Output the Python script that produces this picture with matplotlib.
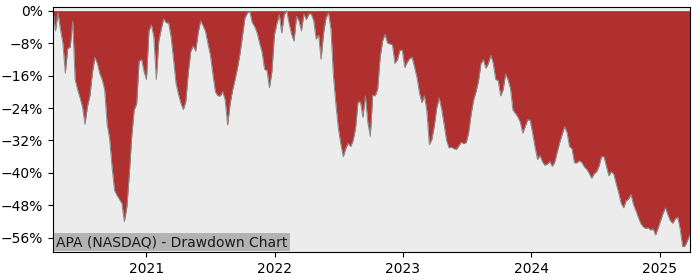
import numpy as np
import pandas as pd
import matplotlib
matplotlib.use("Agg")
import matplotlib.pyplot as plt
import matplotlib.dates as mdates
from matplotlib.ticker import MultipleLocator, PercentFormatter

# weekly drawdown (%) of APA
start_date = "2020-04-10"
n_weeks = 260
drawdown = [
    0, -5, -0.5, -4.5, -8, -15.4, -9.3, -9, -2.6, -17,
    -19.5, -21.5, -23.8, -28, -23.6, -21, -15.4, -11.5, -13, -15.5,
    -17, -19.5, -28, -31.5, -38.5, -44.3, -45.5, -46.5, -47.5, -52,
    -48.5, -40.5, -31, -24.4, -23, -12.5, -12, -15, -17, -5,
    -3.5, -6.5, -17, -7.5, -4.5, -2, -3, -3, -6.5, -12,
    -17.9, -20.6, -22.8, -24.4, -22.3, -15.3, -10, -8.7, -10, -5.5,
    -2.5, -3.7, -5.1, -8.2, -11, -15.7, -20, -21, -21, -20,
    -22, -28.2, -23, -19.6, -17, -14.1, -10.7, -6.3, -1.9, -0.6,
    -0.2, -3, -3.9, -5.5, -8, -10.2, -14.5, -14.7, -19, -15,
    -6, -3.2, -1, -5.5, -1, 0, -3.2, -5.8, -7.5, -1.4,
    -2.5, -5, -0.8, -2.2, -0.8, -0.8, -2.5, -7, -6, -12,
    -5.5, -1.8, -0.5, -4.5, -16, -23, -29, -32.8, -36, -34,
    -32.7, -33.5, -32, -29, -22.5, -22.5, -26.3, -21, -27.5, -31,
    -20.8, -21, -19.3, -11.5, -7.5, -5.8, -8, -8.2, -8.4, -13,
    -12.1, -9.8, -9.7, -14, -12.7, -11.8, -11.5, -14, -16.5, -20.3,
    -22.7, -21, -24.7, -33, -31.8, -28.5, -24, -21.5, -24.2, -28,
    -32, -33.8, -33.7, -34, -34.2, -33.3, -32.4, -32.8, -32.5, -30,
    -25.5, -22, -19.9, -17.3, -13, -12.1, -14.2, -13, -11, -13,
    -17, -17.2, -21, -19.5, -15.6, -17, -19.2, -24.5, -25.3, -26.2,
    -27.5, -30.2, -28.5, -26.9, -27, -30.2, -33.7, -36.7, -35.7, -37.3,
    -38.1, -37.8, -37.2, -38.4, -37.3, -34.8, -32.5, -30.5, -28.6, -30,
    -33.5, -34, -37.5, -37.5, -37, -37.4, -38.5, -39.1, -40.1, -41.3,
    -40.2, -39.7, -38.3, -36, -36, -38.3, -40.7, -39.7, -40.3, -42.7,
    -44.9, -47.5, -48.6, -46.9, -46.4, -45.3, -47.8, -49.3, -51, -52.5,
    -53.3, -53.7, -53.5, -54.1, -53.8, -55.3, -53.6, -51.8, -50, -48.6,
    -50.3, -51.8, -52.4, -51.3, -50.9, -53.8, -58.2, -58, -56.6, -55.2,
]
title = "APA (NASDAQ) - Drawdown Chart"

dates = pd.date_range(start_date, periods=n_weeks, freq="7D")
dd = np.array(drawdown)

fig = plt.figure(figsize=(7, 2.8), dpi=100)
ax = fig.add_axes([0.0757, 0.1, 0.91, 0.875])
ax.set_facecolor("#ececec")

ax.fill_between(dates, dd, 0, color="#b03030", linewidth=0)
ax.plot(dates, dd, color="#8a8a8a", linewidth=0.7)

ax.set_xlim(dates[0], dates[-1])
ax.set_ylim(-59.5, 0.9)
ax.yaxis.set_major_locator(MultipleLocator(8))
ax.yaxis.set_major_formatter(PercentFormatter(decimals=0))
ax.xaxis.set_major_locator(mdates.YearLocator())
ax.xaxis.set_major_formatter(mdates.DateFormatter("%Y"))
ax.tick_params(labelsize=10)

ax.text(0.005, 0.012, title, transform=ax.transAxes, fontsize=10,
        ha="left", va="bottom", color="#1a1a1a",
        bbox=dict(facecolor="#b3b3b3", edgecolor="none", boxstyle="square,pad=0.15"))

fig.savefig("out.png", dpi=100)
